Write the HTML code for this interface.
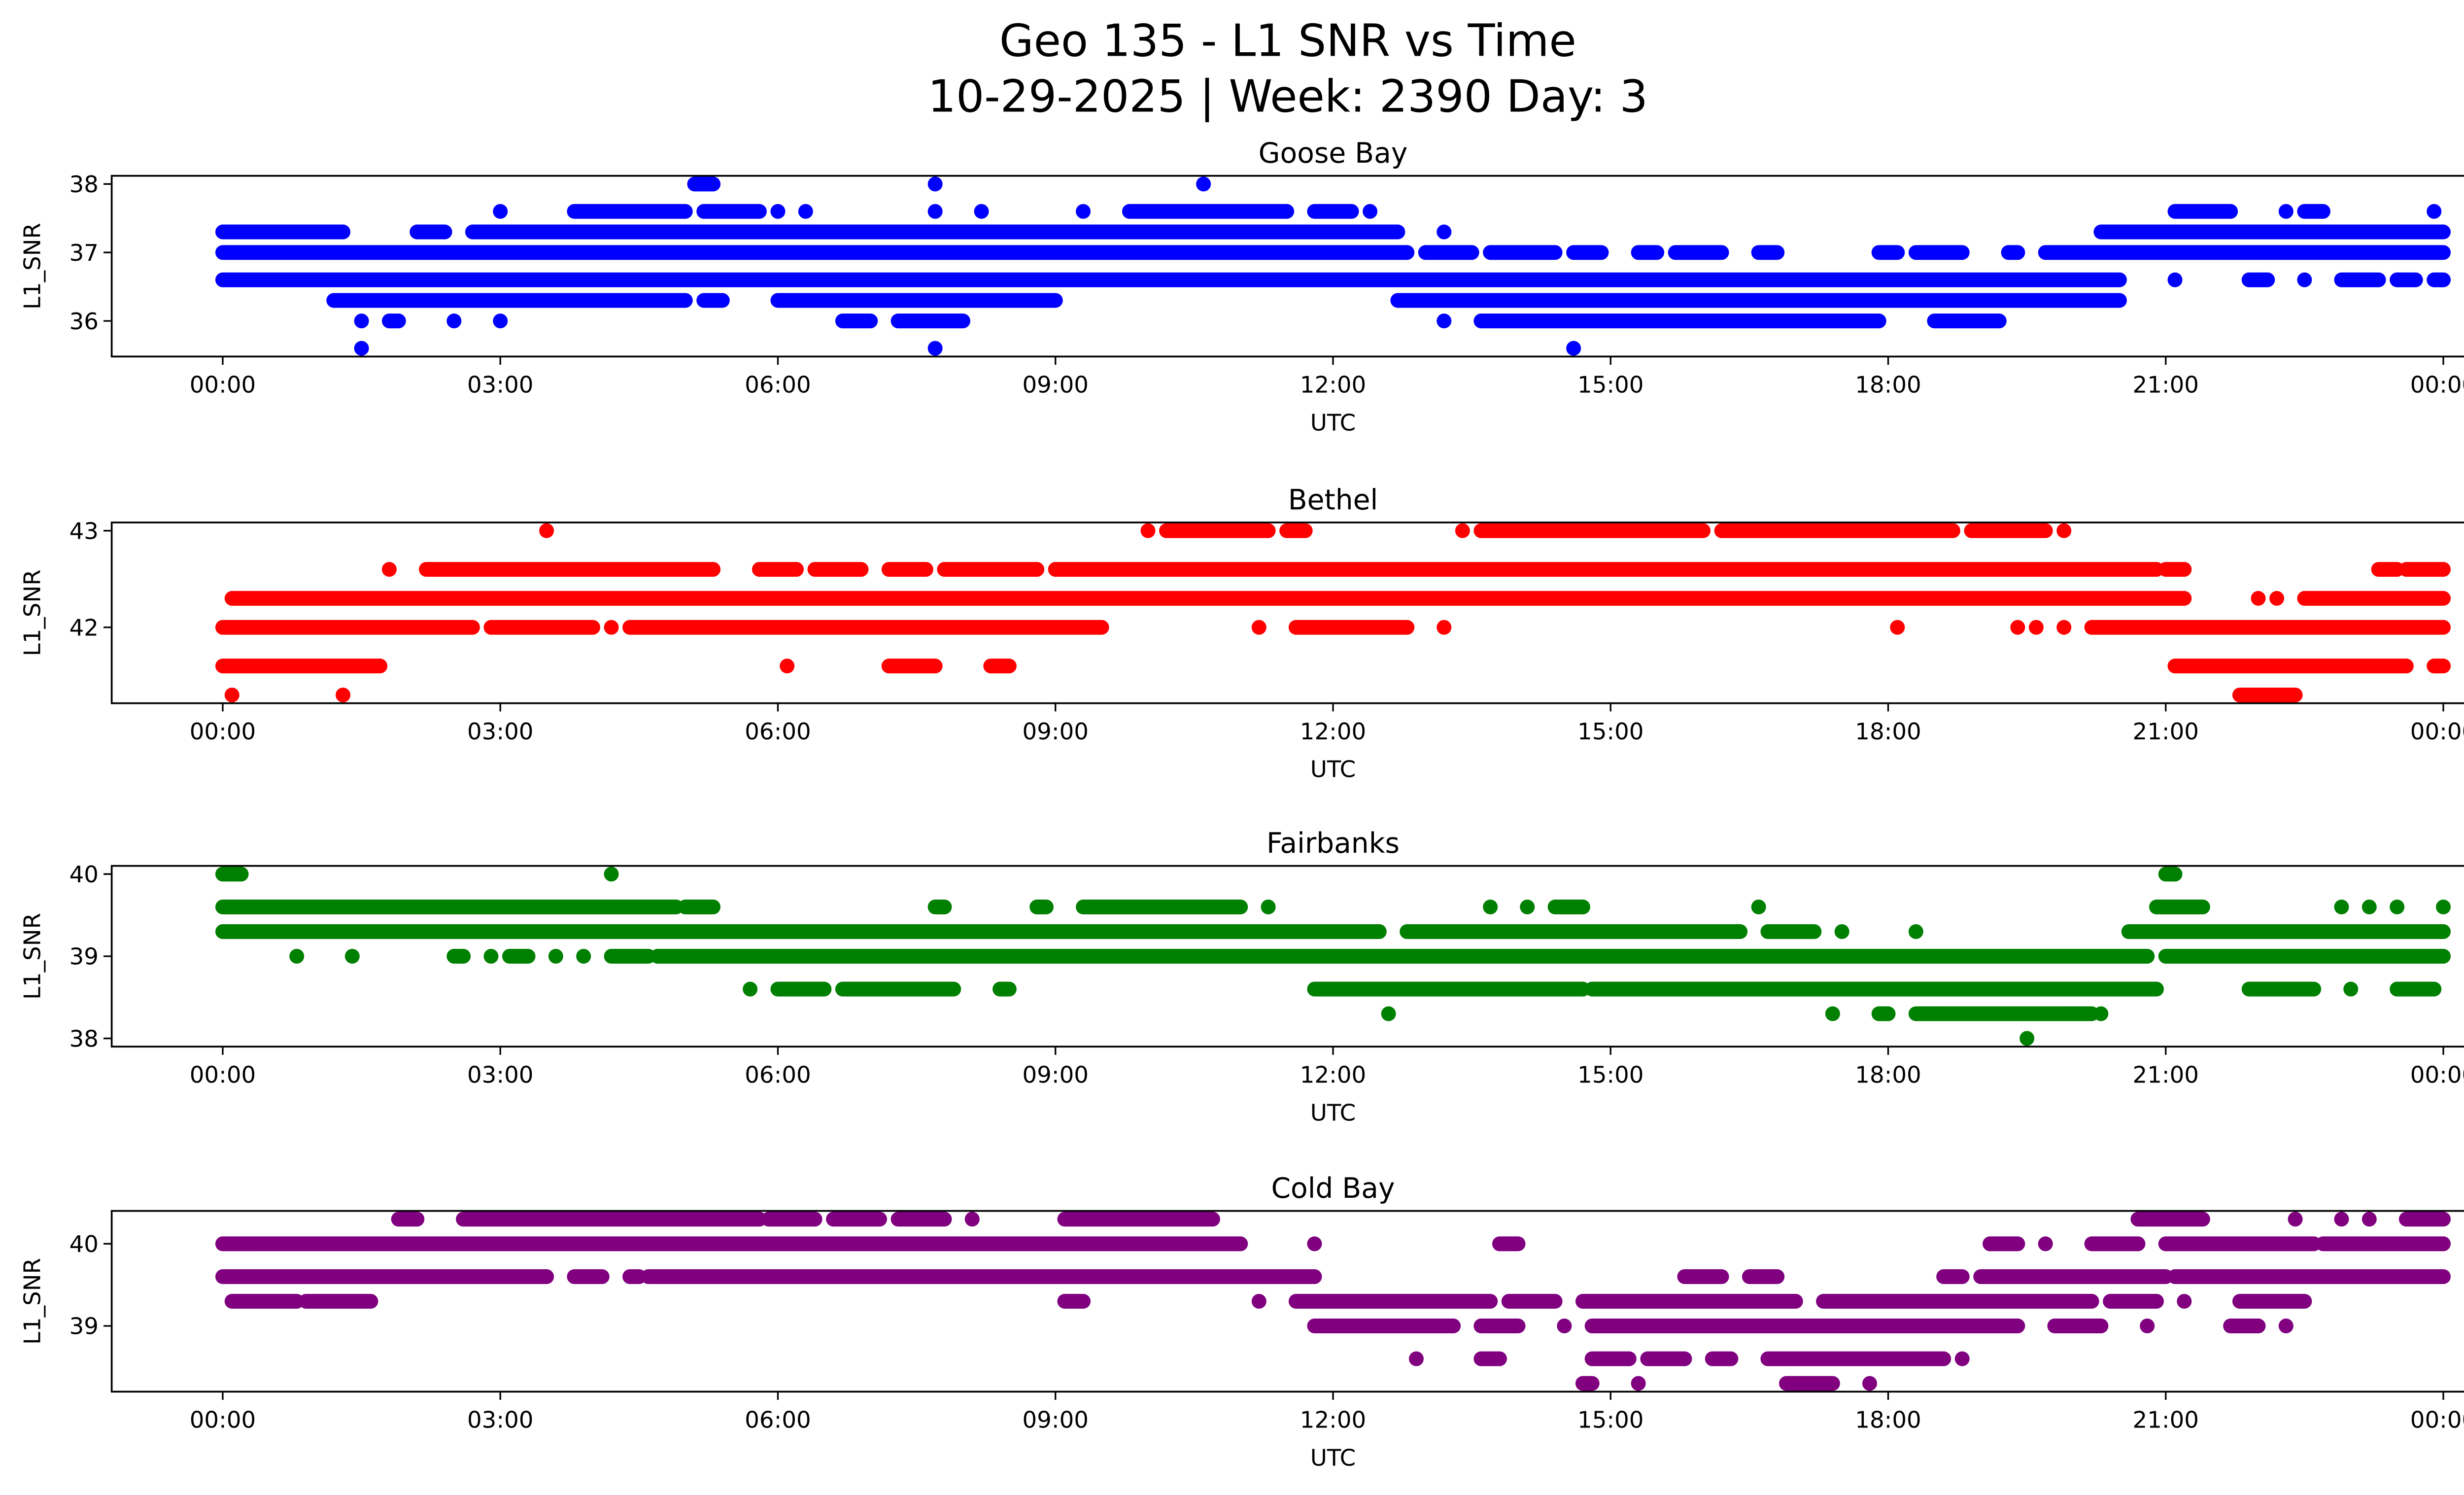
<!DOCTYPE html>
<html><head><meta charset="utf-8"><style>
html,body{margin:0;padding:0;background:#fff;overflow:hidden;}
svg{display:block;font-family:"DejaVu Sans","Liberation Sans",sans-serif;}
</style></head><body>
<svg id="fig" width="5225" height="3033" viewBox="0 0 1567.5 909.9" xmlns="http://www.w3.org/2000/svg">
<rect width="1567.5" height="909.9" fill="#fff"/>
<text x="784" y="34" font-size="27" text-anchor="middle">Geo 135 - L1 SNR vs Time</text>
<text x="784" y="68" font-size="27" text-anchor="middle">10-29-2025 | Week: 2390 Day: 3</text>
</svg>
<script>
// Runs: [level, startHour, endHour]
const gooseRuns=[[37.3,0,1.3],[37.3,2.1,2.4],[37.3,2.7,12.7],[37.3,13.2,13.2],[37.3,20.3,24],
[37.0,0,12.8],[37.0,13.0,13.5],[37.0,13.7,14.4],[37.0,14.6,14.9],[37.0,15.3,15.5],[37.0,15.7,16.2],[37.0,16.6,16.8],[37.0,17.9,18.1],[37.0,18.3,18.8],[37.0,19.3,19.4],[37.0,19.7,24],
[36.6,0,20.5],[36.6,21.1,21.1],[36.6,21.9,22.1],[36.6,22.5,22.5],[36.6,22.9,23.3],[36.6,23.5,23.7],[36.6,23.9,24],
[36.3,1.2,5.0],[36.3,5.2,5.4],[36.3,6.0,9.0],[36.3,12.7,20.5],
[36.0,1.5,1.5],[36.0,1.8,1.9],[36.0,2.5,2.5],[36.0,3.0,3.0],[36.0,6.7,7.0],[36.0,7.3,8.0],[36.0,13.2,13.2],[36.0,13.6,17.9],[36.0,18.5,19.2],
[35.6,1.5,1.5],[35.6,7.7,7.7],[35.6,14.6,14.6],
[37.6,3.0,3.0],[37.6,3.8,5.0],[37.6,5.2,5.8],[37.6,6.0,6.0],[37.6,6.3,6.3],[37.6,7.7,7.7],[37.6,8.2,8.2],[37.6,9.3,9.3],[37.6,9.8,11.5],[37.6,11.8,12.2],[37.6,12.4,12.4],[37.6,21.1,21.7],[37.6,22.3,22.3],[37.6,22.5,22.7],[37.6,23.9,23.9],
[38.0,5.1,5.3],[38.0,7.7,7.7],[38.0,10.6,10.6]];
const bethelRuns=[[43.0,3.5,3.5],[43.0,10.0,10.0],[43.0,10.2,11.3],[43.0,11.5,11.7],[43.0,13.4,13.4],[43.0,13.6,16.0],[43.0,16.2,18.7],[43.0,18.9,19.7],[43.0,19.9,19.9],
[42.6,1.8,1.8],[42.6,2.2,5.3],[42.6,5.8,6.2],[42.6,6.4,6.9],[42.6,7.2,7.6],[42.6,7.8,8.8],[42.6,9.0,20.9],[42.6,21.0,21.2],[42.6,23.3,23.5],[42.6,23.6,24],
[42.3,0.1,21.2],[42.3,22.0,22.0],[42.3,22.2,22.2],[42.3,22.5,24],
[42.0,0,2.7],[42.0,2.9,4.0],[42.0,4.2,4.2],[42.0,4.4,9.5],[42.0,11.2,11.2],[42.0,11.6,12.8],[42.0,13.2,13.2],[42.0,18.1,18.1],[42.0,19.4,19.4],[42.0,19.6,19.6],[42.0,19.9,19.9],[42.0,20.2,24],
[41.6,0,1.7],[41.6,6.1,6.1],[41.6,7.2,7.7],[41.6,8.3,8.5],[41.6,21.1,23.6],[41.6,23.9,24],
[41.3,0.1,0.1],[41.3,1.3,1.3],[41.3,21.8,22.4]];
const fairRuns=[[40.0,0,0.2],[40.0,4.2,4.2],[40.0,21.0,21.1],
[39.6,0,4.9],[39.6,5.0,5.3],[39.6,7.7,7.8],[39.6,8.8,8.9],[39.6,9.3,11.0],[39.6,11.3,11.3],[39.6,13.7,13.7],[39.6,14.1,14.1],[39.6,14.4,14.7],[39.6,16.6,16.6],[39.6,20.9,21.4],[39.6,22.9,22.9],[39.6,23.2,23.2],[39.6,23.5,23.5],[39.6,24,24],
[39.3,0,12.5],[39.3,12.8,16.4],[39.3,16.7,17.2],[39.3,17.5,17.5],[39.3,18.3,18.3],[39.3,20.6,24],
[39.0,0.8,0.8],[39.0,1.4,1.4],[39.0,2.5,2.6],[39.0,2.9,2.9],[39.0,3.1,3.3],[39.0,3.6,3.6],[39.0,3.9,3.9],[39.0,4.2,4.6],[39.0,4.7,20.8],[39.0,21.0,24],
[38.6,5.7,5.7],[38.6,6.0,6.5],[38.6,6.7,7.9],[38.6,8.4,8.5],[38.6,11.8,14.7],[38.6,14.8,20.9],[38.6,21.9,22.6],[38.6,23.0,23.0],[38.6,23.5,23.9],
[38.3,12.6,12.6],[38.3,17.4,17.4],[38.3,17.9,18.0],[38.3,18.3,20.2],[38.3,20.3,20.3],
[38.0,19.5,19.5]];
const coldRuns=[[40.3,1.9,2.1],[40.3,2.6,5.8],[40.3,5.9,6.4],[40.3,6.6,7.1],[40.3,7.3,7.8],[40.3,8.1,8.1],[40.3,9.1,10.7],[40.3,20.7,21.4],[40.3,22.4,22.4],[40.3,22.9,22.9],[40.3,23.2,23.2],[40.3,23.6,24],
[40.0,0,11.0],[40.0,11.8,11.8],[40.0,13.8,14.0],[40.0,19.1,19.4],[40.0,19.7,19.7],[40.0,20.2,20.7],[40.0,21.0,22.6],[40.0,22.7,24],
[39.6,0,3.5],[39.6,3.8,4.1],[39.6,4.4,4.5],[39.6,4.6,11.8],[39.6,15.8,16.2],[39.6,16.5,16.8],[39.6,18.6,18.8],[39.6,19.0,21.0],[39.6,21.1,24],
[39.3,0.1,0.8],[39.3,0.9,1.6],[39.3,9.1,9.3],[39.3,11.2,11.2],[39.3,11.6,13.1],[39.3,13.0,13.7],[39.3,13.9,14.4],[39.3,14.7,17.0],[39.3,17.3,20.2],[39.3,20.4,20.9],[39.3,21.2,21.2],[39.3,21.8,22.5],
[39.0,11.8,13.3],[39.0,13.6,14.0],[39.0,14.5,14.5],[39.0,14.8,19.4],[39.0,19.8,20.3],[39.0,20.8,20.8],[39.0,21.7,22.0],[39.0,22.3,22.3],
[38.6,12.9,12.9],[38.6,13.6,13.8],[38.6,14.8,15.2],[38.6,15.4,15.8],[38.6,16.1,16.3],[38.6,16.7,18.6],[38.6,18.8,18.8],
[38.3,14.7,14.8],[38.3,15.3,15.3],[38.3,16.9,17.4],[38.3,17.8,17.8]];
const panelTitles=["Goose Bay","Bethel","Fairbanks","Cold Bay"];
const panelColors=["#0000ff","#ff0000","#008000","#800080"];
const yTicks=[[36,37,38],[42,43],[38,39,40],[39,40]];
const xTickHours=[0,3,6,9,12,15,18,21,24];
const xTickLabels=["00:00","03:00","06:00","09:00","12:00","15:00","18:00","21:00","00:00"];
const allRuns=[gooseRuns,bethelRuns,fairRuns,coldRuns];

const NS="http://www.w3.org/2000/svg";
const svg=document.getElementById('fig');
function mk(tag,attrs,parent){const e=document.createElementNS(NS,tag);for(const k in attrs)e.setAttribute(k,attrs[k]);(parent||svg).appendChild(e);return e;}
const L=68,R=1555;const tops=[107,318,527,737];const H=110;
const xmin=-1.2,xmax=25.2;
const xs=h=>L+(h-xmin)/(xmax-xmin)*(R-L);
allRuns.forEach((runs,i)=>{
  const top=tops[i],bot=top+H;
  let lo=Infinity,hi=-Infinity;runs.forEach(r=>{lo=Math.min(lo,r[0]);hi=Math.max(hi,r[0]);});
  const m=(hi-lo)*0.05;const y0=lo-m,y1=hi+m;
  const ys=v=>bot-(v-y0)/(y1-y0)*H;
  const g=mk('g',{});
  
  
  const t=mk('text',{x:(L+R)/2,y:top-8,'font-size':17,'text-anchor':'middle'},g);t.textContent=panelTitles[i];
  
  
  runs.forEach(r=>{
    const ln=mk('line',{x1:xs(r[1]),x2:xs(r[2]),y1:ys(r[0]),y2:ys(r[0]),stroke:panelColors[i],'stroke-width':9,'stroke-linecap':'round'},g);
    
    
  });
  const fr=mk('rect',{x:L,y:top,width:R-L,height:H,fill:'none',stroke:'#000','stroke-width':1.1},g);
  
  
  xTickHours.forEach((h,k)=>{
    mk('line',{x1:xs(h),x2:xs(h),y1:bot,y2:bot+5,stroke:'#000','stroke-width':1},g);
    const tl=mk('text',{x:xs(h),y:bot+22,'font-size':14,'text-anchor':'middle'},g);tl.textContent=xTickLabels[k];
    
    
  });
  yTicks[i].forEach(v=>{
    mk('line',{x1:L-5,x2:L,y1:ys(v),y2:ys(v),stroke:'#000','stroke-width':1},g);
    const tl=mk('text',{x:L-8,y:ys(v)+5,'font-size':14,'text-anchor':'end'},g);tl.textContent=v;
    
    
  });
  const xl=mk('text',{x:(L+R)/2,y:bot+45,'font-size':14,'text-anchor':'middle'},g);xl.textContent='UTC';
  
  
  const yl=mk('text',{x:0,y:0,'font-size':14,'text-anchor':'middle',transform:`translate(24.5,${top+H/2}) rotate(-90)`},g);yl.textContent='L1_SNR';
  
  
});
</script>
</body></html>
